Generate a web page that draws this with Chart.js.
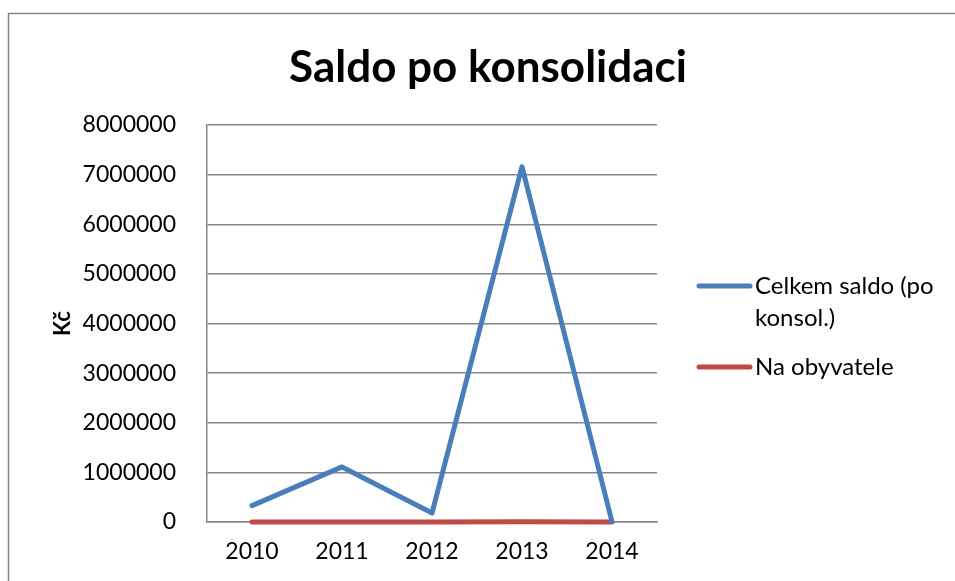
<!DOCTYPE html>
<html>
<head>
<meta charset="utf-8">
<script src="https://cdn.jsdelivr.net/npm/chart.js@4"></script>
<style>
html, body { margin: 0; padding: 0; background: #fff; }
#wrap { width: 955px; height: 581px; }
</style>
</head>
<body>
<div id="wrap"><canvas id="saldoChart" width="955" height="581"></canvas></div>
<script>
var years = ['2010', '2011', '2012', '2013', '2014'];
var celkemSaldo = [330000, 1110000, 180000, 7160000, 5000];
var naObyvatele = [300, 1000, 160, 6400, 0];
var seriesNames = [['Celkem saldo (po', 'konsol.)'], ['Na obyvatele']];
var chartTitle = 'Saldo po konsolidaci';
var yTitle = 'Kč';

var font = 'Lato, "Open Sans", sans-serif';
var grey = '#868686';

var decor = {
    id: 'decor',
    beforeDraw: function(chart) {
        var c = chart.ctx;
        c.save();
        c.strokeStyle = grey;
        c.lineWidth = 1.5;
        c.strokeRect(8.5, 13.5, 1000, 700);
        c.restore();
    },
    afterDraw: function(chart) {
        var c = chart.ctx;
        c.save();
        c.fillStyle = '#000';
        c.textAlign = 'center';
        c.textBaseline = 'middle';
        c.font = 'bold 44px ' + font;
        c.fillText(chartTitle, 488, 68);

        // legend
        var rows = [286, 367];
        c.font = '24px ' + font;
        c.textAlign = 'left';
        chart.data.datasets.forEach(function(ds, i) {
            var y = rows[i];
            c.strokeStyle = ds.borderColor;
            c.lineWidth = 5;
            c.lineCap = 'round';
            c.beginPath();
            c.moveTo(699, y);
            c.lineTo(750, y);
            c.stroke();
            var lines = seriesNames[i];
            for (var k = 0; k < lines.length; k++) {
                c.fillText(lines[k], 755, y + k * 32);
            }
        });
        c.restore();
    }
};

var ctx = document.getElementById('saldoChart').getContext('2d');
var chart = new Chart(ctx, {
    type: 'line',
    data: {
        labels: years,
        datasets: [{
            label: seriesNames[0].join(' '),
            data: celkemSaldo,
            borderColor: '#4A7EBB',
            borderWidth: 5,
            borderCapStyle: 'round',
            borderJoinStyle: 'round',
            pointRadius: 0,
            fill: false,
            clip: false,
            tension: 0
        }, {
            label: seriesNames[1].join(' '),
            data: naObyvatele,
            borderColor: '#BE4B48',
            borderWidth: 5,
            borderCapStyle: 'round',
            borderJoinStyle: 'round',
            pointRadius: 0,
            fill: false,
            clip: false,
            tension: 0
        }]
    },
    options: {
        responsive: false,
        animation: false,
        layout: { padding: { left: 0, right: 298, top: 125, bottom: 0 } },
        plugins: {
            legend: { display: false },
            title: { display: false },
            tooltip: { enabled: false }
        },
        scales: {
            x: {
                offset: true,
                grid: { display: false, drawTicks: false },
                border: { display: true, color: grey, width: 1.5 },
                ticks: { color: '#000', font: { family: font, size: 23 }, padding: 16, maxRotation: 0 },
                afterFit: function(scale) { scale.height = 59; }
            },
            y: {
                min: 0,
                max: 8000000,
                grid: { color: grey, lineWidth: 1.5, drawTicks: false },
                border: { display: true, color: grey, width: 1.5 },
                ticks: {
                    stepSize: 1000000,
                    color: '#000',
                    padding: 31,
                    font: { family: font, size: 23 },
                    callback: function(v) { return String(v); }
                },
                title: {
                    display: true,
                    text: yTitle,
                    color: '#000',
                    font: { family: font, size: 22, weight: 'bold' },
                    padding: { top: 50, bottom: 0 }
                },
                afterFit: function(scale) { scale.width = 207; }
            }
        }
    },
    plugins: [decor]
});
</script>
</body>
</html>
